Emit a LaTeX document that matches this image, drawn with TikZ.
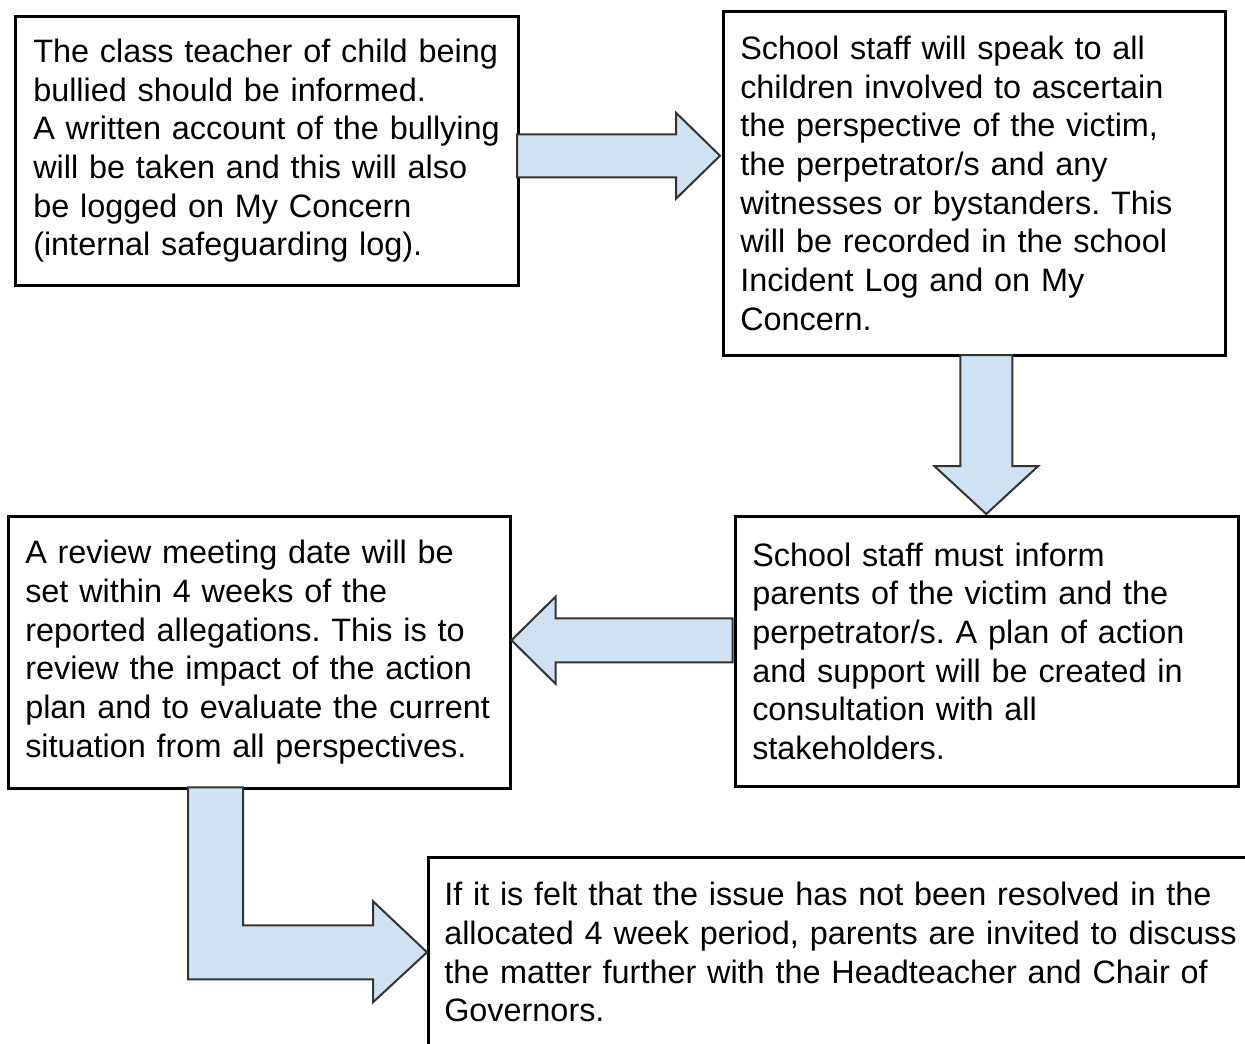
\documentclass[tikz,border=0pt]{standalone}
\usepackage{fontspec}
\setmainfont{Liberation Sans}
\usetikzlibrary{calc,positioning}
\definecolor{arrowblue}{HTML}{CFE2F3}
\frenchspacing
\hyphenpenalty=10000
\tikzset{box/.style={draw,line width=2.5pt,rectangle,anchor=north west,align=left,inner ysep=0pt,font=\fontsize{32.4}{38.7}\selectfont},
 blockarrow/.style={fill=arrowblue,draw=black!80,line width=2pt,line join=miter}}

\begin{document}
\begin{tikzpicture}[x=1pt,y=-1pt]
\useasboundingbox (0,0) rectangle (1245,1044);
\clip (0,0) rectangle (1245,1044);
% the five steps
\node[box,minimum width=503,minimum height=269,text width=467,inner xsep=18] (teacher) at (14,15)
 {The class teacher of child being\\ bullied should be informed.\\ A written account of the bullying\\ will be taken and this will also\\ be logged on My Concern\\ (internal safeguarding log).};
\node[box,minimum width=502,minimum height=344,text width=468,inner xsep=17] (staff) at (722,10)
 {School staff will speak to all\\ children involved to ascertain\\ the perspective of the victim,\\ the perpetrator/s and any\\ witnesses or bystanders. This\\ will be recorded in the school\\ Incident Log and on My\\ Concern.};
\node[box,minimum width=503,minimum height=270,text width=469,inner xsep=17] (parents) at (734,515)
 {School staff must inform\\ parents of the victim and the\\ perpetrator/s. A plan of action\\ and support will be created in\\ consultation with all\\ stakeholders.};
\node[box,minimum width=502,minimum height=272,text width=468,inner xsep=17] (review) at (7,515)
 {A review meeting date will be\\ set within 4 weeks of the\\ reported allegations. This is to\\ review the impact of the action\\ plan and to evaluate the current\\ situation from all perspectives.};
\node[box,minimum width=860,minimum height=190,text width=828,inner xsep=16] (governors) at (427,856)
 {If it is felt that the issue has not been resolved in the\\ allocated 4 week period, parents are invited to discuss\\ the matter further with the Headteacher and Chair of\\ Governors.};
% block arrows
\coordinate (tip1) at ($(staff.west)+(-2,-27.5)$);
\coordinate (tip2) at ($(parents.north)+(-0.5,-1)$);
\coordinate (tip3) at ($(review.east)+(0,-12)$);
\coordinate (tip4) at (governors.west);
\draw[blockarrow,shift={(tip1)}] (-203,-21.5) -- (-44,-21.5) -- (-44,-43) -- (0,0) -- (-44,43) -- (-44,21.5) -- (-203,21.5) -- cycle;
\draw[blockarrow,shift={(tip2)}] (-26,-159) -- (26,-159) -- (26,-48) -- (52,-48) -- (0,0) -- (-52,-48) -- (-26,-48) -- cycle;
\draw[blockarrow,shift={(tip3)}] (221,-22) -- (44,-22) -- (44,-43.5) -- (0,0) -- (44,43.5) -- (44,22) -- (221,22) -- cycle;
\draw[blockarrow,shift={(tip4)}] (-239,-165) -- (-184,-165) -- (-184,-27) -- (-54,-27) -- (-54,-51) -- (0,0) -- (-54,50) -- (-54,27) -- (-239,27) -- cycle;
\end{tikzpicture}
\end{document}
